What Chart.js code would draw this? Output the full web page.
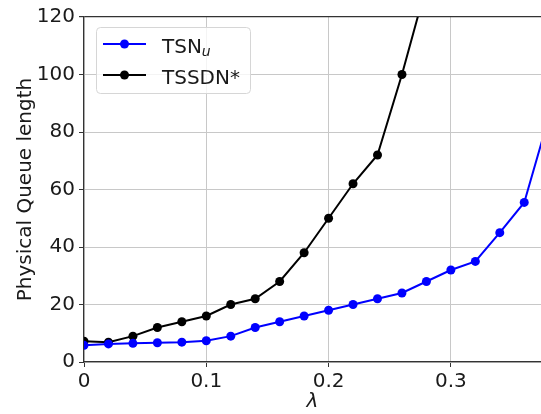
<!DOCTYPE html>
<html>
<head>
<meta charset="utf-8">
<script src="https://cdn.jsdelivr.net/npm/chart.js@4/dist/chart.umd.min.js"></script>
<style>
  html, body { margin: 0; padding: 0; background: #fff; }
  #wrap { width: 541px; height: 414px; }
</style>
</head>
<body>
<div id="wrap"><canvas id="queueChart" width="541" height="414"></canvas></div>
<script>
// lambda values (x) and queue lengths
const lambdas = [0, 0.02, 0.04, 0.06, 0.08, 0.10, 0.12, 0.14, 0.16, 0.18,
                 0.20, 0.22, 0.24, 0.26, 0.28, 0.30, 0.32, 0.34, 0.36, 0.38];
const tsnU  = [5.8, 6.3, 6.5, 6.7, 6.9, 7.4, 9, 12, 14, 16,
               18, 20, 22, 24, 28, 32, 35, 45, 55.5, 85];
const tssdn = [7.2, 6.9, 9, 12, 14, 16, 20, 22, 28, 38,
               50, 62, 72, 100, 131];
const xTicks = [0, 0.1, 0.2, 0.3];
const yTicks = [0, 20, 40, 60, 80, 100, 120];

const FONT = "'DejaVu Sans', sans-serif";
const SPINE = '#333';

function toPoints(ys) {
    return ys.map((y, i) => ({ x: lambdas[i], y: y }));
}

// legend drawn like the matplotlib one: line + dot, subscript u
const legendBox = {
    id: 'legendBox',
    afterDraw(chart) {
        const c = chart.ctx;
        c.save();
        c.beginPath();
        c.roundRect(96.5, 27.5, 154, 66, 4);
        c.fillStyle = 'rgba(255,255,255,0.8)';
        c.fill();
        c.strokeStyle = '#d6d6d6';
        c.lineWidth = 1;
        c.stroke();

        const entries = [
            { color: '#0000ff', y: 44 },
            { color: '#000000', y: 75 }
        ];
        entries.forEach(e => {
            c.strokeStyle = e.color;
            c.lineWidth = 2;
            c.beginPath();
            c.moveTo(103, e.y);
            c.lineTo(146, e.y);
            c.stroke();
            c.fillStyle = e.color;
            c.beginPath();
            c.arc(124.5, e.y, 4.5, 0, Math.PI * 2);
            c.fill();
        });

        c.fillStyle = '#1a1a1a';
        c.textBaseline = 'alphabetic';
        c.textAlign = 'left';
        c.font = '20px ' + FONT;
        c.fillText('TSN', 162, 52.5);
        const w = c.measureText('TSN').width;
        c.font = 'italic 14px ' + FONT;
        c.fillText('u', 162 + w, 56);
        c.font = '20px ' + FONT;
        c.fillText('TSSDN*', 162, 83.5);
        c.restore();
    }
};

const ctx = document.getElementById('queueChart').getContext('2d');
const queueChart = new Chart(ctx, {
    type: 'line',
    data: {
        datasets: [
            {
                label: 'TSN_u',
                data: toPoints(tsnU),
                borderColor: '#0000ff',
                backgroundColor: '#0000ff',
                borderWidth: 2,
                pointRadius: 4.5,
                pointHoverRadius: 4.5,
                pointBorderWidth: 0,
                tension: 0
            },
            {
                label: 'TSSDN*',
                data: toPoints(tssdn),
                borderColor: '#000000',
                backgroundColor: '#000000',
                borderWidth: 2,
                pointRadius: 4.5,
                pointHoverRadius: 4.5,
                pointBorderWidth: 0,
                tension: 0
            }
        ]
    },
    options: {
        responsive: false,
        animation: false,
        layout: { autoPadding: false, padding: { top: 17, right: 0, bottom: 0, left: 0 } },
        plugins: {
            legend: { display: false },
            tooltip: { enabled: false }
        },
        scales: {
            x: {
                type: 'linear',
                min: 0,
                max: 0.3737,
                afterBuildTicks: scale => {
                    scale.ticks = xTicks.map(v => ({ value: v }));
                },
                afterFit: scale => {
                    scale.height = 52;
                    scale.paddingLeft = 0;
                    scale.paddingRight = 0;
                },
                ticks: {
                    color: '#1a1a1a',
                    font: { family: FONT, size: 20 },
                    padding: 3,
                    maxRotation: 0,
                    callback: v => String(Math.round(v * 10) / 10)
                },
                grid: {
                    color: '#c8c8c8',
                    lineWidth: 1,
                    tickLength: 5,
                    tickColor: SPINE
                },
                border: { color: SPINE, width: 1.2 },
                title: {
                    display: true,
                    text: 'λ',
                    color: '#1a1a1a',
                    font: { family: FONT, size: 20, style: 'italic' },
                    padding: { top: 1, bottom: 0 }
                }
            },
            y: {
                min: 0,
                max: 120,
                afterBuildTicks: scale => {
                    scale.ticks = yTicks.map(v => ({ value: v }));
                },
                afterFit: scale => {
                    scale.width = 84;
                    scale.paddingTop = 0;
                    scale.paddingBottom = 0;
                },
                ticks: {
                    color: '#1a1a1a',
                    font: { family: FONT, size: 20 },
                    padding: 4
                },
                grid: {
                    color: c => (c.tick && c.tick.value === 120) ? SPINE : '#c8c8c8',
                    lineWidth: c => (c.tick && c.tick.value === 120) ? 1.2 : 1,
                    tickLength: 5,
                    tickColor: SPINE
                },
                border: { color: SPINE, width: 1.2 },
                title: {
                    display: true,
                    text: 'Physical Queue length',
                    color: '#1a1a1a',
                    font: { family: FONT, size: 20 },
                    padding: { top: 14, bottom: 0 }
                }
            }
        }
    },
    plugins: [legendBox]
});
</script>
</body>
</html>
